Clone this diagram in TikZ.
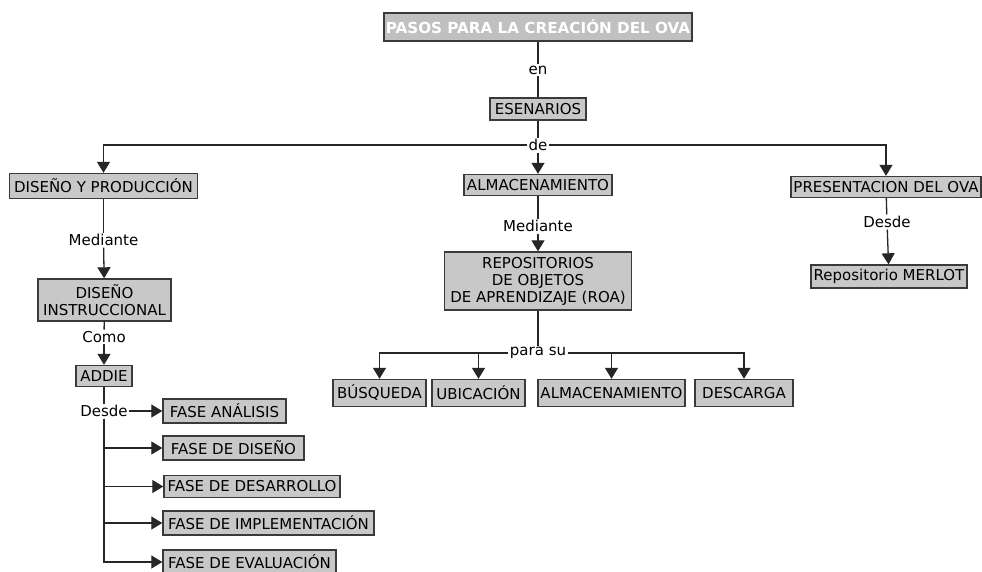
\documentclass[tikz,border=0pt]{standalone}
\usepackage{fontspec}
\setmainfont{DejaVu Sans}
\usetikzlibrary{arrows.meta}
\definecolor{boxfill}{HTML}{C8C8C8}
\definecolor{titlefill}{HTML}{C0C0C0}
\definecolor{boxline}{HTML}{3A3A3A}
\tikzset{
  concept/.style={draw=boxline, fill=boxfill, line width=1.4pt, inner sep=2pt,
    align=center, font=\fontsize{15}{17}\selectfont},
  titlebox/.style={concept, fill=titlefill, text=white,
    font=\fontsize{15.2}{17}\selectfont\bfseries},
  linkword/.style={fill=white, inner sep=1.5pt, font=\fontsize{15}{17}\selectfont},
  link/.style={draw=black!85, line width=1.3pt},
  arr/.style={link, -{Triangle[width=13pt,length=11pt]}},
  sz/.style 2 args={minimum width=#1pt, minimum height=#2pt}
}
\begin{document}
\begin{tikzpicture}[x=1pt, y=-1pt]
\useasboundingbox[fill=white] (0,0) rectangle (982,571);

% concepts
\node[titlebox, sz={306}{28}] (title) at (538,27) {PASOS PARA LA CREACIÓN DEL OVA};
\node[concept, sz={96}{22}] (esen) at (538,109) {ESENARIOS};
\node[concept, sz={188}{25}] (dyp) at (103.5,186) {DISEÑO Y PRODUCCIÓN};
\node[concept, sz={148}{21}] (alm) at (538,185) {ALMACENAMIENTO};
\node[concept, sz={190}{21}] (pres) at (886,187) {PRESENTACION DEL OVA};
\node[concept, sz={133}{42}] (di) at (104.5,300) {DISEÑO\\INSTRUCCIONAL};
\node[concept, sz={187}{58}] (rep) at (538,281) {REPOSITORIOS\\DE OBJETOS\\DE APRENDIZAJE (ROA)};
\node[concept, sz={156}{23}] (merlot) at (889,276.5) {Repositorio MERLOT};
\node[concept, sz={56}{21}] (addie) at (104,376) {ADDIE};
\node[concept, sz={93}{27}] (busq) at (379.5,393) {BÚSQUEDA};
\node[concept, sz={93}{27}] (ubic) at (478.5,393) {UBICACIÓN};
\node[concept, sz={147}{27}] (alm2) at (611.5,393) {ALMACENAMIENTO};
\node[concept, sz={98}{27}] (desc) at (744,393) {DESCARGA};
\node[concept, sz={123}{24}] (fa) at (224.5,411) {FASE ANÁLISIS};
\node[concept, sz={141}{24}] (fd) at (233.5,448) {FASE DE DISEÑO};
\node[concept, sz={176}{22}] (fdes) at (252,486.5) {FASE DE DESARROLLO};
\node[concept, sz={211}{24}] (fimp) at (268.5,523) {FASE DE IMPLEMENTACIÓN};
\node[concept, sz={173}{24}] (feval) at (249.5,562) {FASE DE EVALUACIÓN};

% linking words
\node[linkword] (en) at (538,70) {en};
\node[linkword] (de) at (538,145) {de};
\node[linkword] (med1) at (103.5,240) {Mediante};
\node[linkword] (como) at (104,337) {Como};
\node[linkword] (desde1) at (104,411) {Desde};
\node[linkword] (med2) at (538,226) {Mediante};
\node[linkword] (parasu) at (538,353) {para su};
\node[linkword] (desde2) at (887,222) {Desde};

% connectors
\draw[link] (title) -- (en);
\draw[link] (en) -- (esen);
\draw[link] (esen) -- (de);
\draw[arr] (de.west) -| (dyp.north);
\draw[arr] (de) -- (alm);
\draw[arr] (de.east) -| (pres.north);

\draw[link] (dyp) -- (med1);
\draw[arr] (med1) -- (di);
\draw[link] (di) -- (como);
\draw[arr] (como) -- (addie);
\draw[link] (addie) -- (desde1);
\draw[arr] (desde1) -- (fa);
\draw[arr] (desde1.south) |- (fd.west);
\draw[arr] (desde1.south) |- (fdes.west);
\draw[arr] (desde1.south) |- (fimp.west);
\draw[arr] (desde1.south) |- (feval.west);

\draw[link] (alm) -- (med2);
\draw[arr] (med2) -- (rep);
\draw[link] (rep) -- (parasu);
\draw[arr] (parasu.west) -| (busq.north);
\draw[arr] (parasu.west) -| (ubic.north);
\draw[arr] (parasu.east) -| (alm2.north);
\draw[arr] (parasu.east) -| (desc.north);

\draw[link] (pres) -- (desde2);
\draw[arr] (desde2) -- (merlot);
\end{tikzpicture}
\end{document}
